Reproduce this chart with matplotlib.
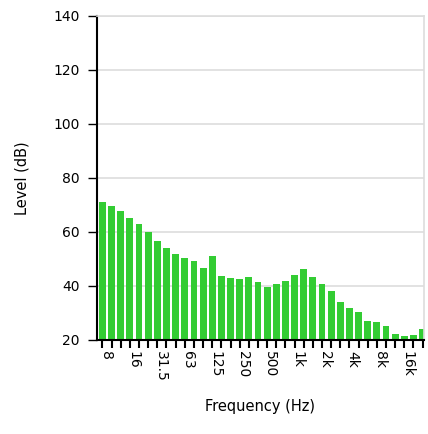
import matplotlib
matplotlib.use("Agg")
import matplotlib.pyplot as plt
import matplotlib.transforms as mtransforms
import numpy as np

# third-octave bands, 6.3 Hz .. 20 kHz
bands = ['6.3', '8', '10', '12.5', '16', '20', '25', '31.5', '40', '50',
         '63', '80', '100', '125', '160', '200', '250', '315', '400', '500',
         '630', '800', '1k', '1.25k', '1.6k', '2k', '2.5k', '3.15k', '4k', '5k',
         '6.3k', '8k', '10k', '12.5k', '16k', '20k']
levels = [70.9, 69.4, 67.9, 65.1, 62.8, 59.9, 56.8, 54.2, 52.0, 50.5,
          49.1, 46.8, 51.1, 43.7, 42.8, 42.6, 43.2, 41.4, 39.7, 40.9,
          41.9, 44.2, 46.2, 43.2, 40.9, 38.3, 34.0, 31.9, 30.3, 27.2,
          26.5, 25.2, 22.2, 21.5, 22.0, 24.1]
shown = ['8', '16', '31.5', '63', '125', '250', '500', '1k', '2k', '4k', '8k', '16k']
yticks = [20, 40, 60, 80, 100, 120, 140]

plt.rcParams['font.family'] = ['DejaVu Sans']

fig = plt.figure(figsize=(4.28, 4.34), dpi=100)
ax = fig.add_axes([0.2266, 0.2166, 0.7640, 0.7472])

x = np.arange(len(bands))
ax.bar(x, np.array(levels) - 20, bottom=20, width=0.75, color='#33cc33',
       edgecolor='none', zorder=2)

ax.set_ylim(20, 140)
ax.set_xlim(-0.6, len(bands) - 0.85)
ax.set_yticks(yticks)
ax.tick_params(axis='y', labelsize=10, length=6.5, width=1, pad=6)
ax.yaxis.grid(True, color='#dddddd', linewidth=1.2, zorder=0)

ax.set_xticks(x, minor=True)
ax.set_xticks([bands.index(b) for b in shown])
ax.set_xticklabels(shown, rotation=-90, fontsize=10)
ax.tick_params(axis='x', which='both', length=6, width=1.5, pad=2)
# nudge the rotated labels a bit left, like the original
shift = mtransforms.ScaledTranslation(-6 / 100, 0, fig.dpi_scale_trans)
for lbl in ax.get_xticklabels():
    lbl.set_transform(lbl.get_transform() + shift)

for s in ['top', 'right']:
    ax.spines[s].set_color('#dddddd')
    ax.spines[s].set_linewidth(1.2)
ax.spines['left'].set_linewidth(1.5)
ax.spines['bottom'].set_linewidth(1.5)

ax.set_ylabel('Level (dB)', fontsize=10.5, labelpad=17)
ax.set_xlabel('Frequency (Hz)', fontsize=10.5, labelpad=12)

fig.savefig('out.png', dpi=100)
